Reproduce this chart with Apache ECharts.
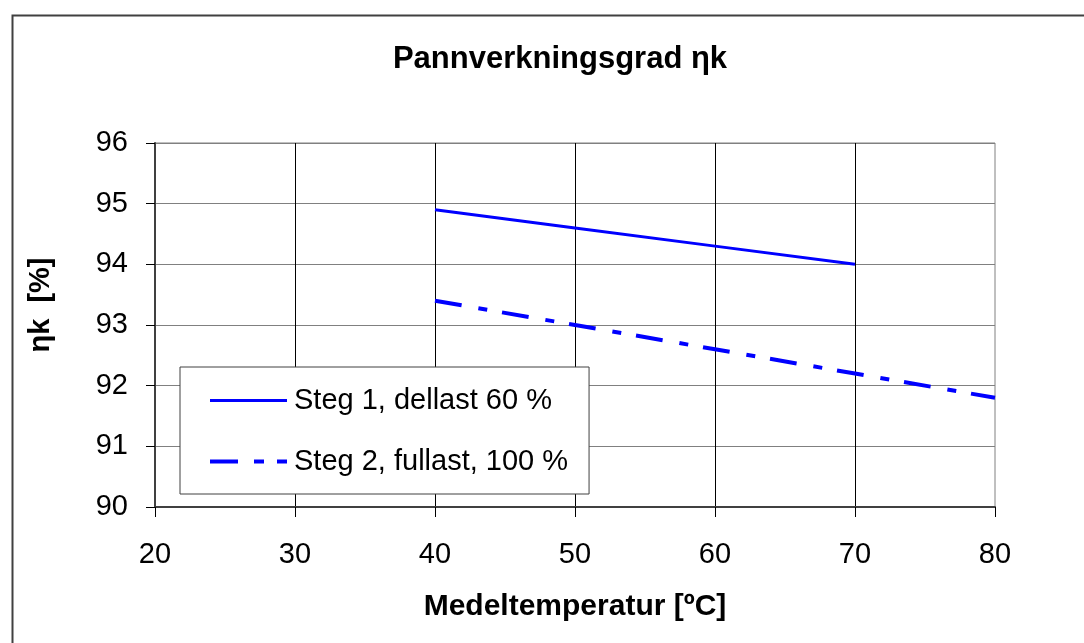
<!DOCTYPE html>
<html>
<head>
<meta charset="utf-8">
<script src="https://cdn.jsdelivr.net/npm/echarts@6/dist/echarts.min.js"></script>
<style>
html,body{margin:0;padding:0;background:#fff;}
#chart{width:1084px;height:643px;}
</style>
</head>
<body>
<div id="chart"></div>
<script>
var titleText = 'Pannverkningsgrad ηk';
var xName = 'Medeltemperatur [ºC]';
var yName = 'ηk  [%]';
var seriesNames = ['Steg 1, dellast 60 %', 'Steg 2, fullast, 100 %'];
var xSteg1 = [40, 50, 60, 70];
var ySteg1 = [94.9, 94.6, 94.3, 94.0];
var xSteg2 = [40, 50, 60, 70, 80];
var ySteg2 = [93.4, 93.0, 92.6, 92.2, 91.8];
var xMin = 20, xMax = 80, xStep = 10;
var yMin = 90, yMax = 96, yStep = 1;

function pairs(xs, ys) { return xs.map(function (x, i) { return [x, ys[i]]; }); }

var font = 'Liberation Sans, Arial, sans-serif';
var dashPattern = [27, 17, 9, 15];
var chart = echarts.init(document.getElementById('chart'), null, {renderer: 'canvas'});
chart.setOption({
  backgroundColor: '#ffffff',
  animation: false,
  graphic: [{
    type: 'rect', left: 10, top: 13, z: 100, silent: true,
    shape: {x: 0, y: 0, width: 1200, height: 800},
    style: {fill: 'none', stroke: '#404040', lineWidth: 2}
  }],
  title: {
    text: titleText, left: 555, top: 39, textAlign: 'center',
    textStyle: {fontFamily: font, fontSize: 31, fontWeight: 'bold', color: '#000'}
  },
  grid: {
    left: 155, right: 89, top: 143, bottom: 136,
    show: true, borderColor: '#808080', borderWidth: 1, backgroundColor: '#fff'
  },
  legend: {
    orient: 'vertical', left: 180, top: 367,
    padding: [19, 21, 18, 28],
    itemGap: 32, itemWidth: 77, itemHeight: 14,
    backgroundColor: '#fff', borderColor: '#404040', borderWidth: 1,
    itemStyle: {opacity: 0},
    textStyle: {fontFamily: font, fontSize: 29, color: '#000', padding: [0, 0, 0, 2]},
    data: [
      {name: seriesNames[0], lineStyle: {width: 3, color: '#0000ff', type: 'solid'}},
      {name: seriesNames[1], lineStyle: {width: 4, color: '#0000ff', type: [28, 16, 10, 13]}}
    ]
  },
  xAxis: {
    type: 'value', min: xMin, max: xMax, interval: xStep,
    name: xName, nameLocation: 'middle', nameGap: 85,
    nameTextStyle: {fontFamily: font, fontSize: 30, fontWeight: 'bold', color: '#000'},
    axisLine: {show: true, onZero: false, lineStyle: {color: '#404040', width: 2}},
    axisTick: {show: true, length: 10, lineStyle: {color: '#000', width: 1}},
    axisLabel: {margin: 33, fontFamily: font, fontSize: 29, color: '#000'},
    splitLine: {show: true, showMinLine: false, showMaxLine: false, lineStyle: {color: '#000', width: 1}}
  },
  yAxis: {
    type: 'value', min: yMin, max: yMax, interval: yStep,
    name: yName, nameLocation: 'middle', nameGap: 100, nameRotate: 90,
    nameTextStyle: {fontFamily: font, fontSize: 29, fontWeight: 'bold', color: '#000', padding: [0, 0, 0, 40]},
    axisLine: {show: true, onZero: false, lineStyle: {color: '#404040', width: 2}},
    axisTick: {show: true, length: 9, lineStyle: {color: '#000', width: 1}},
    axisLabel: {margin: 27, fontFamily: font, fontSize: 29, color: '#000'},
    splitLine: {show: true, lineStyle: {color: '#808080', width: 1}}
  },
  series: [{
    name: seriesNames[0], type: 'line', data: pairs(xSteg1, ySteg1),
    symbol: 'none', showSymbol: false,
    lineStyle: {color: '#0000ff', width: 3, type: 'solid'},
    itemStyle: {color: '#0000ff'}
  }, {
    name: seriesNames[1], type: 'line', data: pairs(xSteg2, ySteg2),
    symbol: 'none', showSymbol: false,
    lineStyle: {color: '#0000ff', width: 4, type: dashPattern},
    itemStyle: {color: '#0000ff'}
  }]
});
</script>
</body>
</html>
